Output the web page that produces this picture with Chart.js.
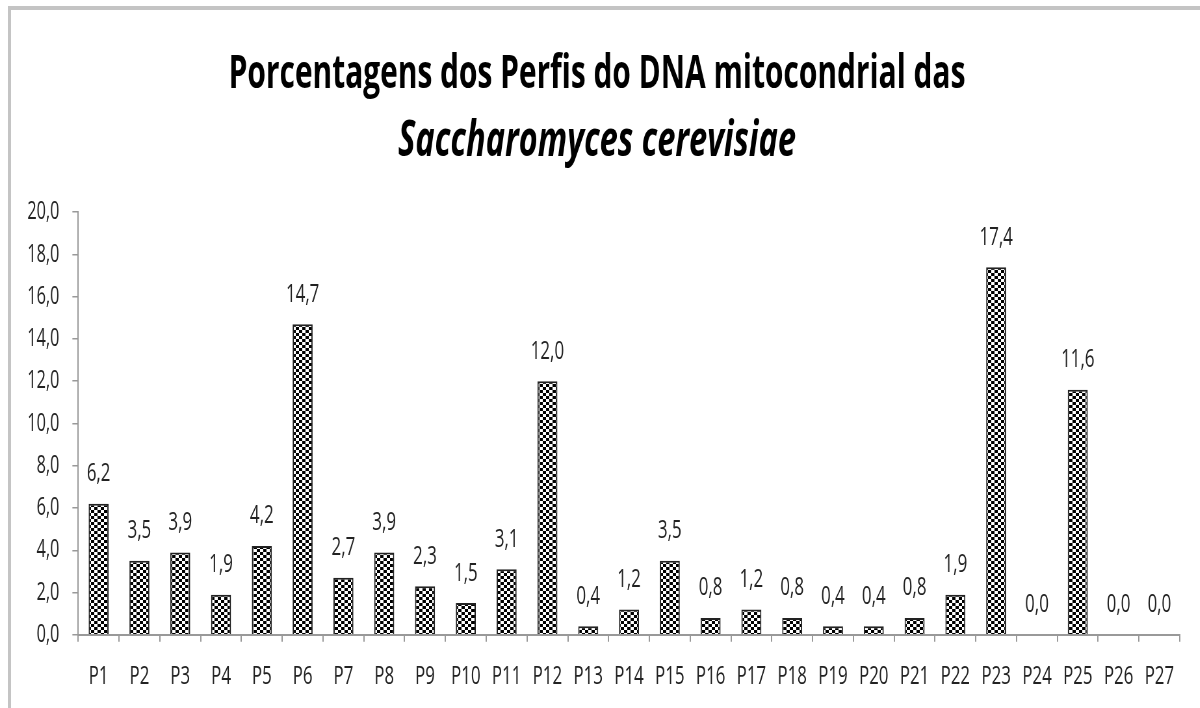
<!DOCTYPE html>
<html>
<head>
<meta charset="utf-8">
<script src="https://cdn.jsdelivr.net/npm/chart.js@4.4.0/dist/chart.umd.min.js"></script>
<style>
    html, body { margin: 0; padding: 0; background: #fff; overflow: hidden; }
    #wrap { position: relative; width: 1200px; height: 708px; overflow: hidden; }
    #frame {
        position: absolute; left: 8px; top: 6px; right: -10px; bottom: -10px;
        border-top: 4px solid #c4c4c4; border-left: 3px solid #c4c4c4;
    }
    /* the reference looks horizontally squeezed, so draw wide and squeeze */
    #chart { position: absolute; left: 0; top: 0; transform: scaleX(0.65); transform-origin: 0 0; }
</style>
</head>
<body>
<div id="wrap">
    <div id="frame"></div>
    <canvas id="chart" width="1846" height="708"></canvas>
</div>
<script>
// ======================
// DATA
// ======================
const profiles = ["P1", "P2", "P3", "P4", "P5", "P6", "P7", "P8", "P9", "P10",
    "P11", "P12", "P13", "P14", "P15", "P16", "P17", "P18", "P19", "P20",
    "P21", "P22", "P23", "P24", "P25", "P26", "P27"];
const percentages = [6.2, 3.5, 3.9, 1.9, 4.2, 14.7, 2.7, 3.9, 2.3, 1.5,
    3.1, 12.0, 0.4, 1.2, 3.5, 0.8, 1.2, 0.8, 0.4, 0.4,
    0.8, 1.9, 17.4, 0.0, 11.6, 0.0, 0.0];
const titleLines = ["Porcentagens dos Perfis do DNA mitocondrial das", "Saccharomyces cerevisiae"];

const FONT = "'Open Sans', sans-serif";

function comma(v) {
    return Number(v).toFixed(1).replace(".", ",");
}

// checkerboard fill like the old office pattern
function makePattern() {
    const c = document.createElement("canvas");
    c.width = 10;
    c.height = 6;
    const g = c.getContext("2d");
    g.fillStyle = "#ffffff";
    g.fillRect(0, 0, 10, 6);
    g.fillStyle = "#000000";
    g.fillRect(0, 0, 5, 3);
    g.fillRect(5, 3, 5, 3);
    return g.createPattern(c, "repeat");
}

// value labels above bars
const valueLabels = {
    id: "valueLabels",
    afterDatasetsDraw(chart) {
        const ctx = chart.ctx;
        const meta = chart.getDatasetMeta(0);
        ctx.save();
        ctx.font = "26px " + FONT;
        ctx.fillStyle = "#222";
        ctx.textAlign = "center";
        ctx.textBaseline = "middle";
        meta.data.forEach(function (bar, i) {
            ctx.fillText(comma(percentages[i]), bar.x, bar.y - 30);
        });
        ctx.restore();
    }
};

new Chart(document.getElementById("chart"), {
    type: "bar",
    data: {
        labels: profiles,
        datasets: [{
            data: percentages,
            backgroundColor: makePattern(),
            borderColor: "#222222",
            borderWidth: 2,
            barPercentage: 0.49,
            categoryPercentage: 1.0
        }]
    },
    options: {
        responsive: false,
        animation: false,
        layout: { padding: { left: 22, right: 31, top: 47, bottom: -3 } },
        plugins: {
            legend: { display: false },
            tooltip: { enabled: false },
            title: {
                display: true,
                text: titleLines[0],
                color: "#000",
                font: { family: FONT, size: 46, weight: "bold", lineHeight: 1.2 },
                padding: { top: 0, bottom: 10 }
            },
            subtitle: {
                display: true,
                text: titleLines[1],
                color: "#000",
                font: { family: FONT, size: 50, weight: "bold", style: "italic", lineHeight: 1.2 },
                padding: { top: 0, bottom: 40 }
            }
        },
        scales: {
            x: {
                offset: true,
                grid: {
                    offset: true,
                    drawOnChartArea: false,
                    drawTicks: true,
                    tickLength: 7,
                    color: "#999",
                    lineWidth: 2
                },
                border: { color: "#999", width: 2 },
                ticks: {
                    color: "#222",
                    font: { family: FONT, size: 26 },
                    padding: 19,
                    maxRotation: 0,
                    autoSkip: false
                }
            },
            y: {
                min: 0,
                max: 20,
                grid: {
                    drawOnChartArea: false,
                    drawTicks: true,
                    tickLength: 9,
                    color: "#999",
                    lineWidth: 1.5
                },
                border: { color: "#999", width: 2 },
                ticks: {
                    stepSize: 2,
                    color: "#222",
                    font: { family: FONT, size: 25 },
                    padding: 20,
                    callback: function (v) { return comma(v); }
                }
            }
        }
    },
    plugins: [valueLabels]
});
</script>
</body>
</html>
